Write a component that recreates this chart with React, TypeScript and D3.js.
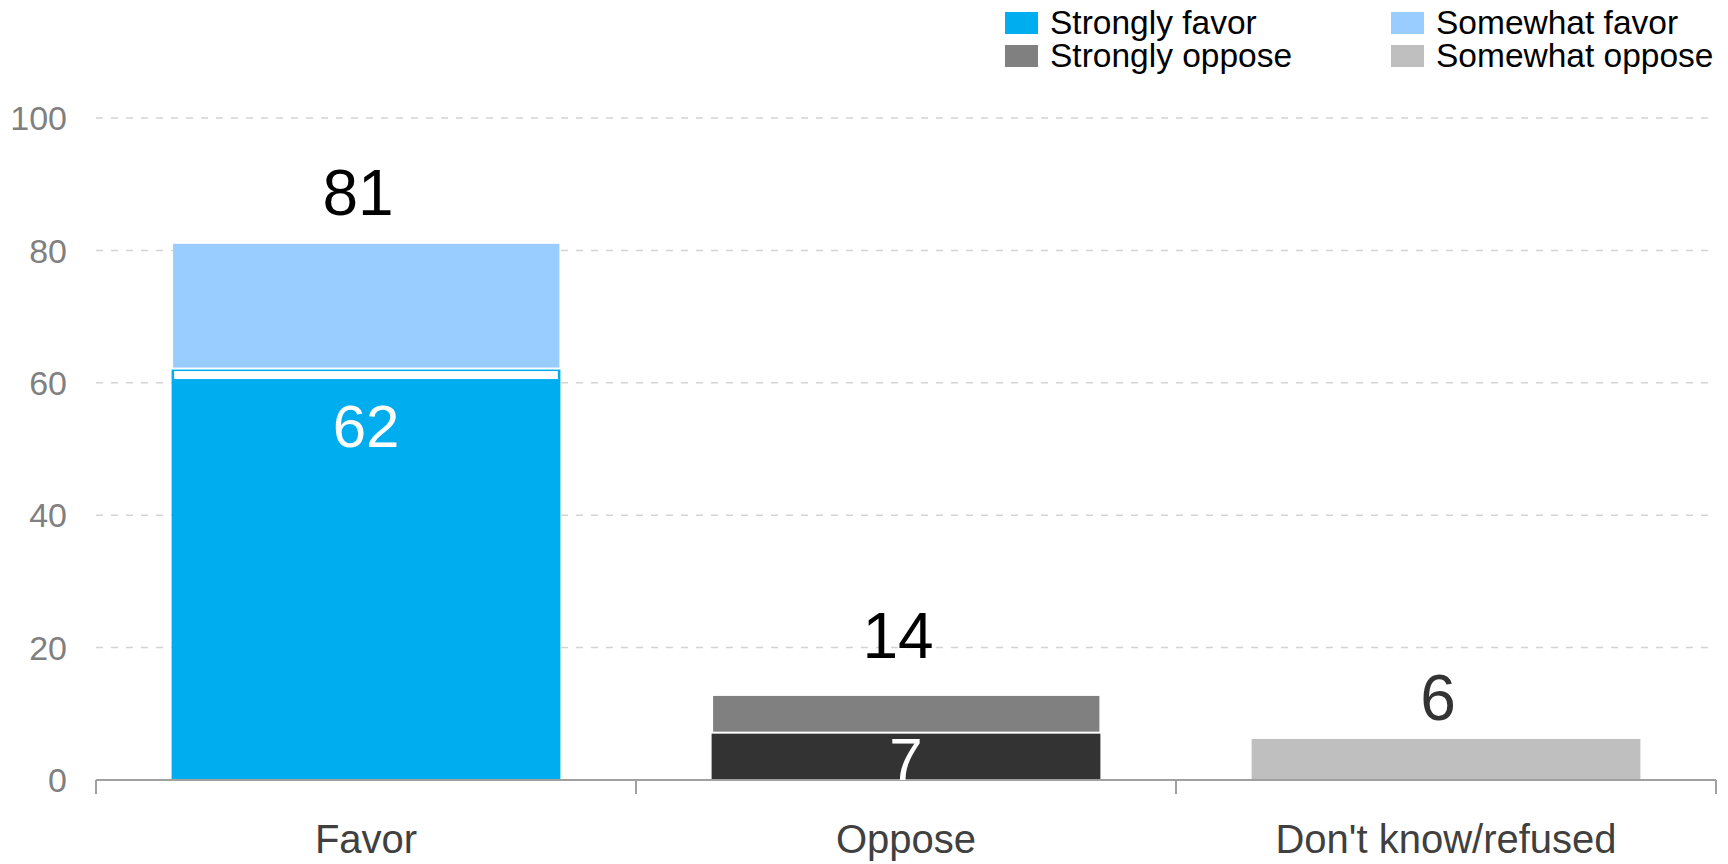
import React from "react";
import * as d3 from "d3";

const categories = ["Favor", "Oppose", "Don't know/refused"];
const bottomValues = [62, 7, 6.2];
const topValues = [19, 5.7, 0];
const bottomColors = ["#00AEEF", "#333333", "#BFBFBF"];
const topColors = ["#99CCFF", "#808080", "#BFBFBF"];
const totalLabels = ["81", "14", "6"];
const totalLabelColors = ["#000000", "#000000", "#333333"];
const innerLabels = ["62", "7", ""];
const yTicks = [0, 20, 40, 60, 80, 100];
const legendNames = ["Strongly favor", "Somewhat favor", "Strongly oppose", "Somewhat oppose"];
const legendColors = ["#00AEEF", "#99CCFF", "#808080", "#BFBFBF"];

const W = 1728;
const H = 864;
const FONT = "'Liberation Sans', Arial, Helvetica, sans-serif";
const LABEL_LIFT = [29, 29, 20];

export default function App() {
  const x = d3.scaleBand<string>().domain(categories).range([96, 1716]).paddingInner(0.28).paddingOuter(0.14);
  const y = d3.scaleLinear().domain([0, 100]).range([780, 118]);
  const step = x.step();
  const bw = x.bandwidth();
  const boundaries = d3.range(categories.length + 1).map((i) => 96 + i * step);

  return (
    <svg width={W} height={H} style={{ position: "absolute", left: 0, top: 0, background: "#fff" }} fontFamily={FONT}>
      {yTicks.filter((t) => t > 0).map((t) => (
        <line key={"g" + t} x1={96} x2={1716} y1={y(t)} y2={y(t)} stroke="#D4D4D4" strokeWidth={1.5} strokeDasharray="7,8" />
      ))}
      {yTicks.map((t) => (
        <text key={"yt" + t} x={67} y={y(t)} dy="0.36em" textAnchor="end" fontSize={34} fill="#808080">{t}</text>
      ))}
      {categories.map((c, i) => {
        const x0 = x(c)!;
        const yb = y(bottomValues[i]);
        const yt = y(bottomValues[i] + topValues[i]);
        return (
          <g key={"b" + c}>
            <rect x={x0} y={yb} width={bw} height={y(0) - yb} fill={bottomColors[i]} />
            {topValues[i] > 0 && (
              <rect x={x0 + 1.5} y={yt} width={bw - 2.5} height={yb - yt - 2} fill={topColors[i]} />
            )}
            {i === 0 && (
              <rect x={x0 + 2.5} y={yb + 1.5} width={bw - 5} height={8} fill="#FFFFFF" />
            )}
          </g>
        );
      })}
      <line x1={96} x2={1716} y1={y(0)} y2={y(0)} stroke="#A0A0A0" strokeWidth={2} />
      {boundaries.map((bx, i) => (
        <line key={"tk" + i} x1={bx} x2={bx} y1={y(0)} y2={y(0) + 14} stroke="#A0A0A0" strokeWidth={2} />
      ))}
      {categories.map((c, i) => {
        if (!innerLabels[i]) return null;
        const cx = x(c)! + bw / 2;
        const base = Math.min(y(bottomValues[i]) + 77, y(0));
        return (
          <text key={"il" + c} x={cx} y={base} textAnchor="middle" fontSize={60} fill="#FFFFFF">{innerLabels[i]}</text>
        );
      })}
      {categories.map((c, i) => {
        const cx = x(c)! + bw / 2 - 8;
        const total = +totalLabels[i];
        return (
          <text key={"tl" + c} x={cx} y={y(total) - LABEL_LIFT[i]} textAnchor="middle" fontSize={64} fill={totalLabelColors[i]}>{totalLabels[i]}</text>
        );
      })}
      {categories.map((c) => (
        <text key={"cl" + c} x={x(c)! + bw / 2} y={853} textAnchor="middle" fontSize={40} fill="#404040">{c}</text>
      ))}
      {legendNames.map((n, i) => {
        const col = i % 2;
        const row = Math.floor(i / 2);
        const lx = col === 0 ? 1005 : 1391;
        const ly = 12 + row * 33;
        return (
          <g key={"lg" + n}>
            <rect x={lx} y={ly} width={33} height={22} fill={legendColors[i]} />
            <text x={lx + 45} y={ly + 22} fontSize={33.5} fill="#000000">{n}</text>
          </g>
        );
      })}
    </svg>
  );
}
